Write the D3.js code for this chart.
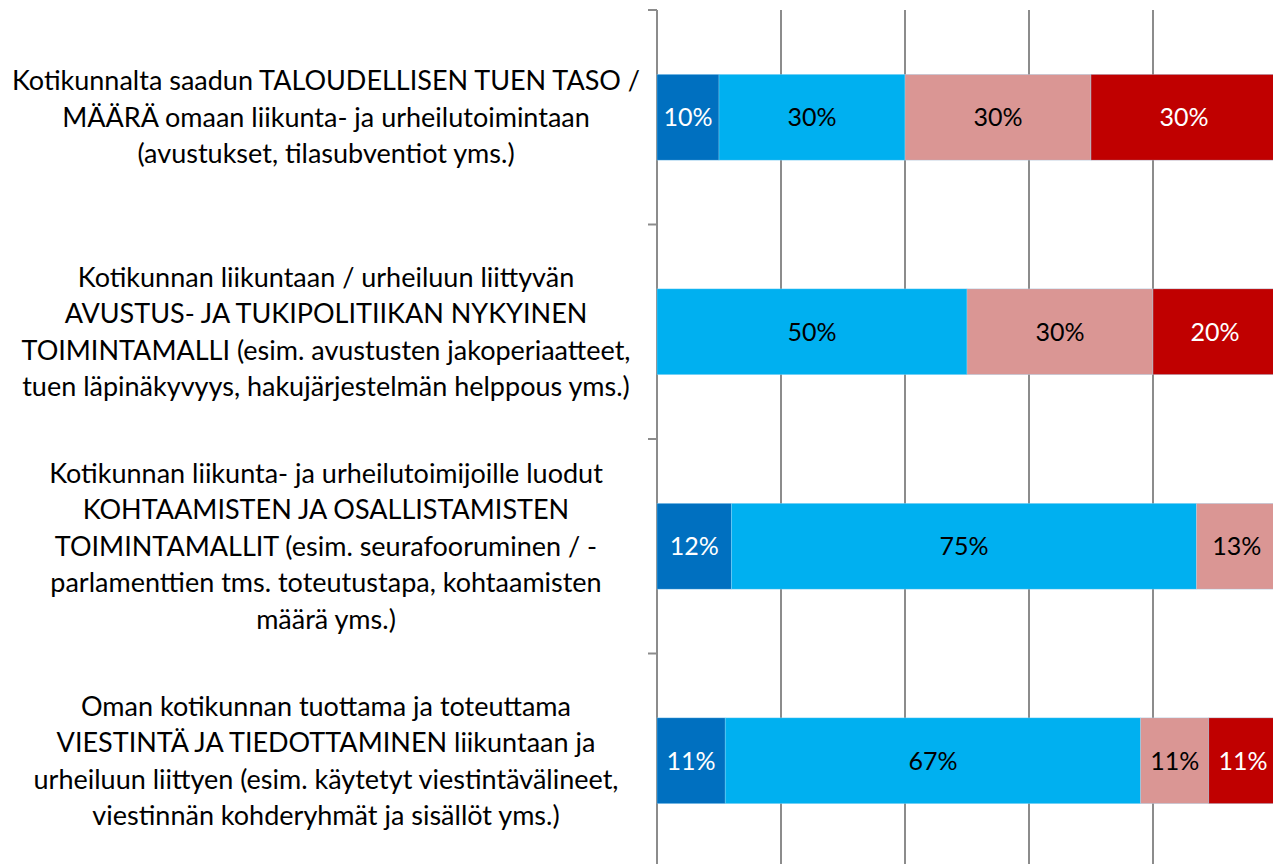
<!DOCTYPE html>
<html lang="fi">
<head>
<meta charset="utf-8">
<title>Kotikunnan tuki</title>
<script src="https://d3js.org/d3.v7.min.js"></script>
<style>
  body { margin: 0; background: #fff; }
  svg { display: block; font-family: Lato, "Open Sans", sans-serif; }
</style>
</head>
<body>
<div id="chart"></div>
<script>
// categories, one list of lines per bar (top to bottom)
var categories = [
  ["Kotikunnalta saadun TALOUDELLISEN TUEN TASO /",
   "MÄÄRÄ omaan liikunta- ja urheilutoimintaan",
   "(avustukset, tilasubventiot yms.)"],
  ["Kotikunnan liikuntaan / urheiluun liittyvän",
   "AVUSTUS- JA TUKIPOLITIIKAN NYKYINEN",
   "TOIMINTAMALLI (esim. avustusten jakoperiaatteet,",
   "tuen läpinäkyvyys, hakujärjestelmän helppous yms.)"],
  ["Kotikunnan liikunta- ja urheilutoimijoille luodut",
   "KOHTAAMISTEN JA OSALLISTAMISTEN",
   "TOIMINTAMALLIT (esim. seurafooruminen / -",
   "parlamenttien tms. toteutustapa, kohtaamisten",
   "määrä yms.)"],
  ["Oman kotikunnan tuottama ja toteuttama",
   "VIESTINTÄ JA TIEDOTTAMINEN liikuntaan ja",
   "urheiluun liittyen (esim. käytetyt viestintävälineet,",
   "viestinnän kohderyhmät ja sisällöt yms.)"]
]

// percent per series, same order as categories
var series1 = [10, 0, 12, 11]
var series2 = [30, 50, 75, 67]
var series3 = [30, 30, 13, 11]
var series4 = [30, 20, 0, 11]

var seriesNames = ["s1", "s2", "s3", "s4"]
var colors = ["#0070C0", "#00B0F0", "#DA9694", "#C00000"]
var labelColors = ["#ffffff", "#000000", "#000000", "#ffffff"]

var width = 1273, height = 864

var rows = categories.map(function(c, i) {
  return { id: i, s1: series1[i], s2: series2[i], s3: series3[i], s4: series4[i] }
})

var x = d3.scaleLinear().domain([0, 100]).range([657, 1277])
var y = d3.scaleBand()
  .domain(rows.map(function(d) { return d.id }))
  .range([10, 868])
  .paddingInner(0.6)
  .paddingOuter(0.3)

var svg = d3.select("#chart").append("svg")
  .attr("width", width)
  .attr("height", height)

// vertical gridlines
svg.append("g")
  .selectAll("line")
  .data(x.ticks(5))
  .enter().append("line")
  .attr("x1", function(d) { return x(d) })
  .attr("x2", function(d) { return x(d) })
  .attr("y1", 10)
  .attr("y2", 868)
  .attr("stroke", "#8c8c8c")
  .attr("stroke-width", 2)

// category tick marks at band boundaries
var bounds = rows.map(function(d) { return y(d.id) - y.step() * 0.3 })
svg.append("g")
  .selectAll("line")
  .data(bounds)
  .enter().append("line")
  .attr("x1", x(0) - 9)
  .attr("x2", x(0))
  .attr("y1", function(d) { return d })
  .attr("y2", function(d) { return d })
  .attr("stroke", "#8c8c8c")
  .attr("stroke-width", 2)

var stacked = d3.stack().keys(seriesNames)(rows)

var layer = svg.append("g")
  .selectAll("g")
  .data(stacked)
  .enter().append("g")
  .attr("fill", function(d, i) { return colors[i] })

layer.selectAll("rect")
  .data(function(d) { return d })
  .enter().append("rect")
  .attr("x", function(d) { return x(d[0]) })
  .attr("width", function(d) { return x(d[1]) - x(d[0]) })
  .attr("y", function(d) { return y(d.data.id) })
  .attr("height", y.bandwidth())
  .attr("stroke", "#9fd9f5")
  .attr("stroke-width", 0.6)
  .attr("stroke-opacity", 0.6)

// value labels
stacked.forEach(function(s, i) {
  svg.append("g")
    .selectAll("text")
    .data(s.filter(function(d) { return d[1] - d[0] > 0 }))
    .enter().append("text")
    .attr("x", function(d) { return (x(d[0]) + x(d[1])) / 2 })
    .attr("y", function(d) { return y(d.data.id) + y.bandwidth() / 2 })
    .attr("dy", "0.36em")
    .attr("text-anchor", "middle")
    .attr("font-size", 25)
    .attr("fill", labelColors[i])
    .text(function(d) { return (d[1] - d[0]) + "%" })
})

// category labels
var lineH = 36.5
var cat = svg.append("g")
  .selectAll("text")
  .data(rows)
  .enter().append("text")
  .attr("text-anchor", "middle")
  .attr("font-size", 27)
  .attr("fill", "#000")

cat.each(function(d) {
  var lines = categories[d.id]
  var cy = y(d.id) + y.bandwidth() / 2
  var t = d3.select(this)
  lines.forEach(function(l, j) {
    t.append("tspan")
      .attr("x", 326)
      .attr("y", cy + (j - (lines.length - 1) / 2) * lineH)
      .attr("dy", "0.36em")
      .text(l)
  })
})
</script>
</body>
</html>
